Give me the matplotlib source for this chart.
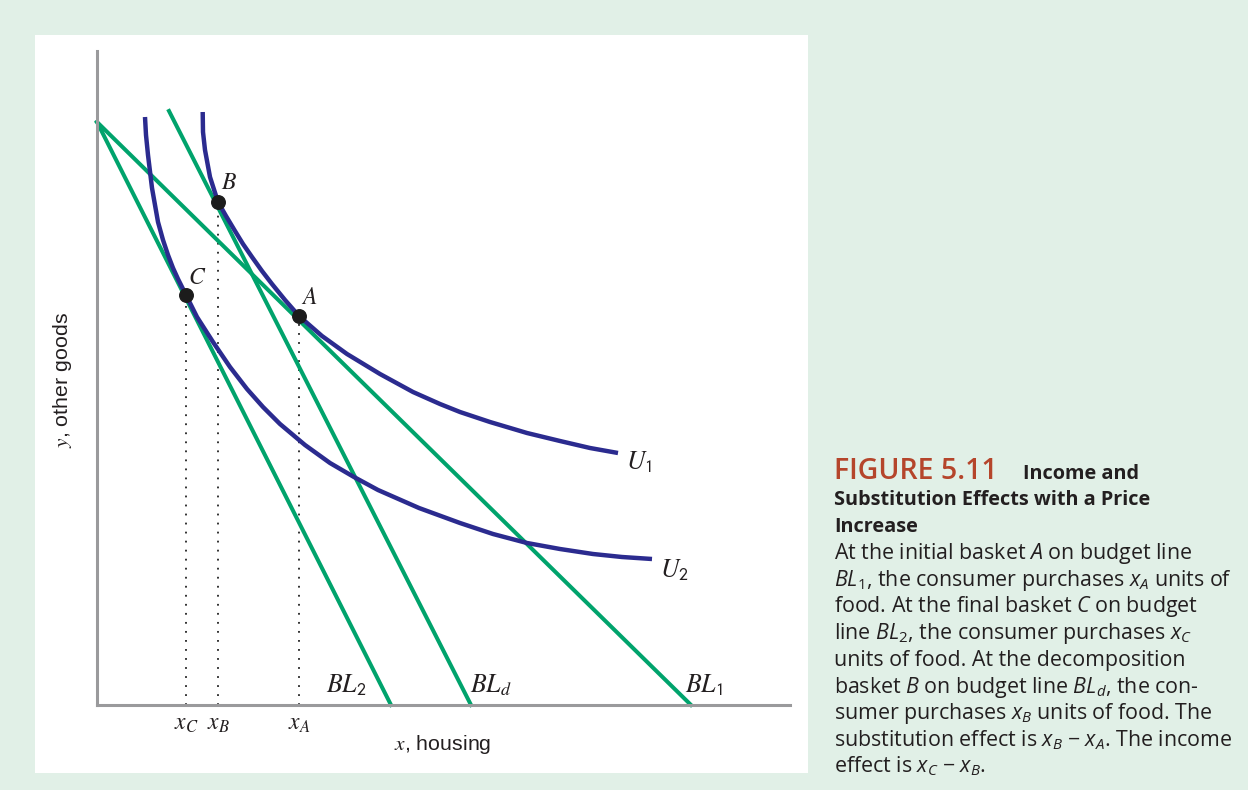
import matplotlib
matplotlib.use("Agg")
import matplotlib.pyplot as plt
from matplotlib.patches import Rectangle

plt.rcParams['mathtext.fontset'] = 'custom'
plt.rcParams['mathtext.rm'] = 'Open Sans'
plt.rcParams['mathtext.it'] = 'Open Sans:italic'
plt.rcParams['mathtext.bf'] = 'Open Sans:bold'

# budget lines (x = housing, y = other goods), endpoints
bl1_x = [0.0, 59.4]
bl1_y = [58.3, 0.0]
bl2_x = [0.0, 29.4]
bl2_y = [58.3, 0.0]
bld_x = [7.2, 37.4]
bld_y = [59.4, 0.0]

# indifference curves
u1_x = [10.57, 10.6, 10.8, 11.3, 12.1, 12.9, 13.8, 14.6, 15.5, 16.5, 17.5, 18.8, 20.2,
        22.5, 25.0, 28.3, 31.6, 34.3, 36.3, 39.3, 43.0, 46.3, 49.3, 52.1]
u1_y = [59.3, 57.3, 55.5, 52.8, 50.3, 48.9, 47.4, 46.1, 44.8, 43.4, 42.1, 40.5, 38.9,
        36.9, 35.1, 33.1, 31.3, 30.1, 29.3, 28.3, 27.2, 26.4, 25.7, 25.2]
u2_x = [4.8, 4.9, 5.1, 5.5, 6.1, 6.6, 7.1, 7.6, 8.1, 8.9, 10.0, 11.6, 13.3, 15.0, 16.6, 18.3,
        20.8, 23.3, 25.7, 28.1, 32.2, 36.3, 39.6, 43.0, 46.3, 49.6, 52.5, 55.5]
u2_y = [58.8, 57.0, 55.0, 51.7, 48.3, 46.5, 45.0, 43.7, 42.6, 41.0, 38.8, 36.3, 33.8, 31.6, 29.8, 28.1,
        26.0, 24.2, 22.8, 21.5, 19.7, 18.2, 17.1, 16.2, 15.6, 15.1, 14.8, 14.6]

# baskets
basket_names = ['A', 'B', 'C']
basket_x = [20.2, 12.1, 8.9]
basket_y = [38.9, 50.3, 41.0]

green = '#00a36c'
navy = '#2b2b8f'
grey = '#9a9a9c'
bg = '#e1f0e7'

fig = plt.figure(figsize=(12.48, 7.90), dpi=100, facecolor=bg)
W, H = 1248, 790
fig.patches.append(Rectangle((35 / W, 1 - 773 / H), (808 - 35) / W, (773 - 35) / H,
                             transform=fig.transFigure, facecolor='white', edgecolor='none', zorder=-10))

ax = fig.add_axes([97 / W, 1 - 705 / H, 693 / W, 654 / H])
ax.set_facecolor('none')
ax.set_xlim(0, 69.3)
ax.set_ylim(0, 65.4)
for s in ['top', 'right']:
    ax.spines[s].set_visible(False)
for s in ['left', 'bottom']:
    ax.spines[s].set_color(grey)
    ax.spines[s].set_linewidth(2.2)
ax.set_xticks([])
ax.set_yticks([])

lw_g = 2.9
ax.plot(bl1_x, bl1_y, color=green, lw=lw_g, clip_on=False, zorder=2)
ax.plot(bl2_x, bl2_y, color=green, lw=lw_g, clip_on=False, zorder=2)
ax.plot(bld_x, bld_y, color=green, lw=lw_g, clip_on=False, zorder=2)
ax.plot(u1_x, u1_y, color=navy, lw=3.2, clip_on=False, zorder=3,
        solid_capstyle='butt', solid_joinstyle='round')
ax.plot(u2_x, u2_y, color=navy, lw=3.2, clip_on=False, zorder=3,
        solid_capstyle='butt', solid_joinstyle='round')

for bx, by in zip(basket_x, basket_y):
    ax.plot([bx, bx], [0, by], color='#222222', lw=1.3, linestyle=(0, (1, 4)), zorder=1)
ax.scatter(basket_x, basket_y, s=95, color='#1c1c1c', zorder=5)

serif = dict(math_fontfamily='stix', fontsize=17, color='#231f20')
offs = {'A': (1.0, 1.9), 'B': (1.1, 2.0), 'C': (1.1, 1.8)}
for n, bx, by in zip(basket_names, basket_x, basket_y):
    dx, dy = offs[n]
    ax.text(bx + dx, by + dy, '$' + n + '$', ha='center', va='center', **serif)

lab = dict(math_fontfamily='stix', fontsize=18.5, color='#231f20', va='center')
ax.text(52.9, 24.3, r'$U_{\mathsf{1}}$', ha='left', **lab)
ax.text(56.3, 13.5, r'$U_{\mathsf{2}}$', ha='left', **lab)
ax.text(24.9, 2.0, r'$BL_{\mathsf{2}}$', ha='center', **lab)
ax.text(39.4, 2.0, r'$BL_{d}$', ha='center', **lab)
ax.text(60.7, 2.0, r'$BL_{\mathsf{1}}$', ha='center', **lab)

for n, bx in zip(basket_names, basket_x):
    ax.text(bx, -1.8, '$x_{' + n + '}$', ha='center', va='center', clip_on=False, **serif)

ax.text(34.6, -4.0, r'$x$, housing', ha='center', va='center', fontsize=15.4,
        family='Liberation Sans', math_fontfamily='stix', color='#231f20')
ax.text(-3.5, 32.5, r'$y$, other goods', ha='center', va='center', fontsize=15.4, rotation=90,
        family='Liberation Sans', math_fontfamily='stix', color='#231f20')

# caption on the right
cap = dict(family='Open Sans', color='#231f20', va='baseline', ha='left')
fig.text(834 / W, 1 - 479 / H, 'FIGURE 5.11', family='Open Sans', fontsize=20.5,
         fontweight='semibold', color='#b5452b', va='baseline', ha='left')
fig.text(1023 / W, 1 - 479 / H, 'Income and', fontweight='bold', fontsize=14.3, **cap)
fig.text(834 / W, 1 - 505 / H, 'Substitution Effects with a Price', fontweight='bold', fontsize=14.3, **cap)
fig.text(834 / W, 1 - 532 / H, 'Increase', fontweight='bold', fontsize=14.3, **cap)

body = [
    r'At the initial basket $A$ on budget line',
    r'$BL_{\mathrm{1}}$, the consumer purchases $x_A$ units of',
    r'food. At the final basket $C$ on budget',
    r'line $BL_{\mathrm{2}}$, the consumer purchases $x_C$',
    r'units of food. At the decomposition',
    r'basket $B$ on budget line $BL_d$, the con-',
    r'sumer purchases $x_B$ units of food. The',
    r'substitution effect is $x_B$ − $x_A$. The income',
    r'effect is $x_C$ − $x_B$.',
]
for i, line in enumerate(body):
    fig.text(834 / W, 1 - (559 + i * 26.7) / H, line, fontsize=15.4, **cap)

fig.savefig('out.png', dpi=100, facecolor=bg)
